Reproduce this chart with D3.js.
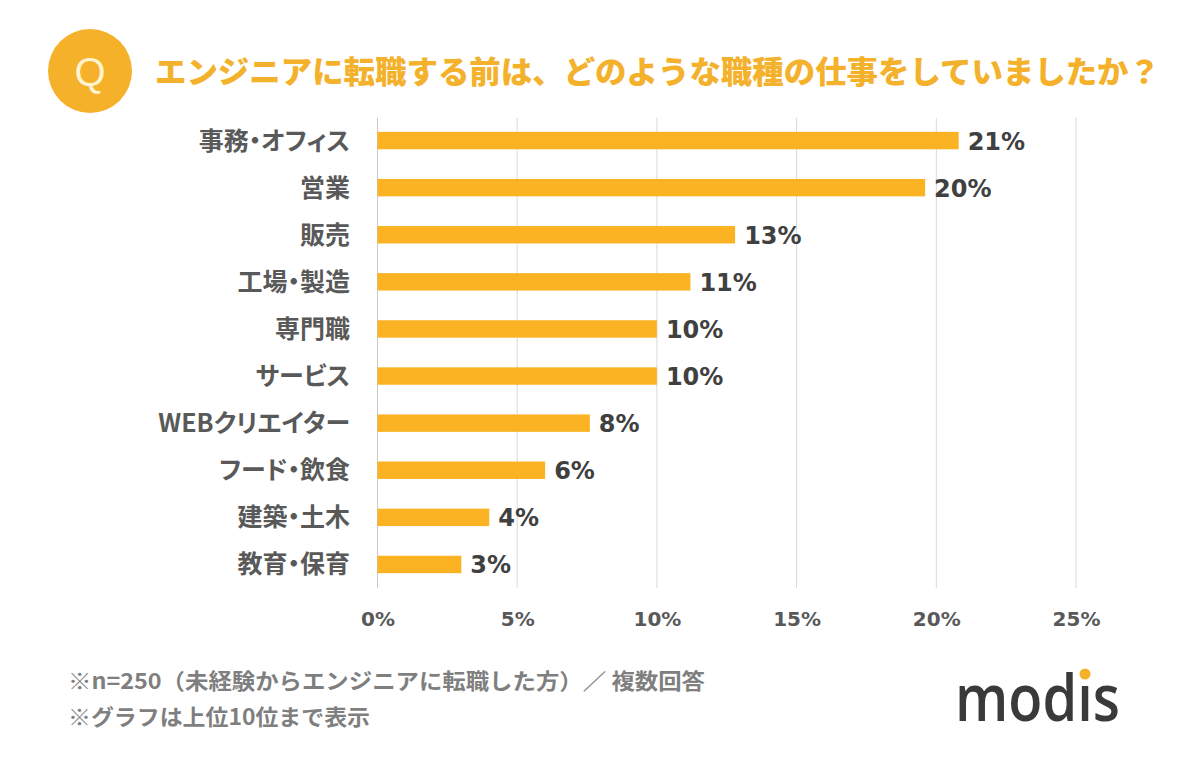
<!DOCTYPE html>
<html><head><meta charset="utf-8">
<script src="https://cdn.jsdelivr.net/npm/d3@7"></script>
<style>body{margin:0;background:#fff}svg{display:block}</style>
</head><body>
<svg id="c" width="1200" height="760"></svg>
<script>
const categories = ["事務・オフィス","営業","販売","工場・製造","専門職","サービス","WEBクリエイター","フード・飲食","建築・土木","教育・保育"];
const values = [20.8,19.6,12.8,11.2,10.0,10.0,7.6,6.0,4.0,3.0];
const valueLabels = ["21%","20%","13%","11%","10%","10%","8%","6%","4%","3%"];
const ticks = [0,5,10,15,20,25];
const title = "エンジニアに転職する前は、どのような職種の仕事をしていましたか？";
const notes = ["※n=250（未経験からエンジニアに転職した方）／ 複数回答","※グラフは上位10位まで表示"];

const svg = d3.select("#c");
const JP = "'Noto Sans CJK JP', sans-serif";
const NUM = "'DejaVu Sans', Verdana, sans-serif";
const orange = "#FBB323";

// Header
svg.append("circle").attr("cx",90).attr("cy",71).attr("r",42).attr("fill","#F6B12A");
svg.append("text").attr("x",90).attr("y",86).attr("text-anchor","middle")
  .attr("font-family","'Liberation Sans', sans-serif").attr("font-size",40).attr("fill","#FFF3D0").text("Q");
svg.append("text").attr("x",155).attr("y",83)
  .attr("font-family",JP).attr("font-weight",900).attr("font-size",31)
  .attr("fill","#F4B12C").attr("textLength",1005).attr("lengthAdjust","spacingAndGlyphs").text(title);

const x = d3.scaleLinear().domain([0,25]).range([377.5,1076]);
const y = d3.scaleBand().domain(categories).range([117,588]).paddingInner(0.63).paddingOuter(0.315);

// gridlines
svg.append("g").selectAll("line").data(ticks).join("line")
  .attr("x1",d=>x(d)).attr("x2",d=>x(d)).attr("y1",118).attr("y2",588)
  .attr("stroke",d=>d===0?"#c8c8c8":"#d9d9d9").attr("stroke-width",1);

// axis labels
const xAxis = d3.axisBottom(x).tickValues(ticks).tickFormat(d=>d+"%").tickSize(0).tickPadding(0);
const ga = svg.append("g").attr("transform","translate(0,626)").call(xAxis);
ga.select(".domain").remove();
ga.selectAll("text").attr("font-family",NUM).attr("font-weight","bold").attr("font-size",20).attr("fill","#595959").attr("dy","0");

// bars
svg.append("g").selectAll("rect").data(values).join("rect")
  .attr("x",x(0)).attr("y",(d,i)=>y(categories[i]))
  .attr("width",d=>x(d)-x(0)).attr("height",y.bandwidth()).attr("fill",orange);

// value labels
svg.append("g").selectAll("text").data(values).join("text")
  .attr("x",d=>x(d)+9).attr("y",(d,i)=>y(categories[i])+y.bandwidth()/2+9)
  .attr("font-family",NUM).attr("font-weight","bold").attr("font-size",24).attr("fill","#404040")
  .text((d,i)=>valueLabels[i]);

// category labels
svg.append("g").selectAll("text").data(categories).join("text")
  .attr("x",350).attr("y",d=>y(d)+y.bandwidth()/2+9).attr("text-anchor","end")
  .attr("font-family",JP).attr("font-weight","bold").attr("font-size",25).attr("fill","#595959")
  .style("font-feature-settings","'palt'")
  .text(d=>d);

// notes
svg.append("g").selectAll("text").data(notes).join("text")
  .attr("x",68).attr("y",(d,i)=>689+i*36)
  .attr("font-family",JP).attr("font-weight","bold").attr("font-size",22).attr("fill","#7f7f7f")
  .attr("textLength",(d,i)=>i===0?637:302).attr("lengthAdjust","spacingAndGlyphs")
  .text(d=>d);

// logo
const logo = svg.append("text").attr("x",955).attr("y",721)
  .attr("font-family","'Open Sans', sans-serif").attr("font-weight",600).attr("font-size",66).attr("fill","#3a3a3a")
  .attr("textLength",165).attr("lengthAdjust","spacingAndGlyphs").text("modis");
const ext = logo.node().getExtentOfChar(3);
svg.append("rect").attr("x",ext.x-1).attr("y",721-66*0.85).attr("width",ext.width+2).attr("height",66*0.85-66*0.56)
  .attr("fill","#fff");
svg.append("circle").attr("cx",ext.x+ext.width/2).attr("cy",674).attr("r",5.5).attr("fill","#F6B12A");
</script>
</body></html>
